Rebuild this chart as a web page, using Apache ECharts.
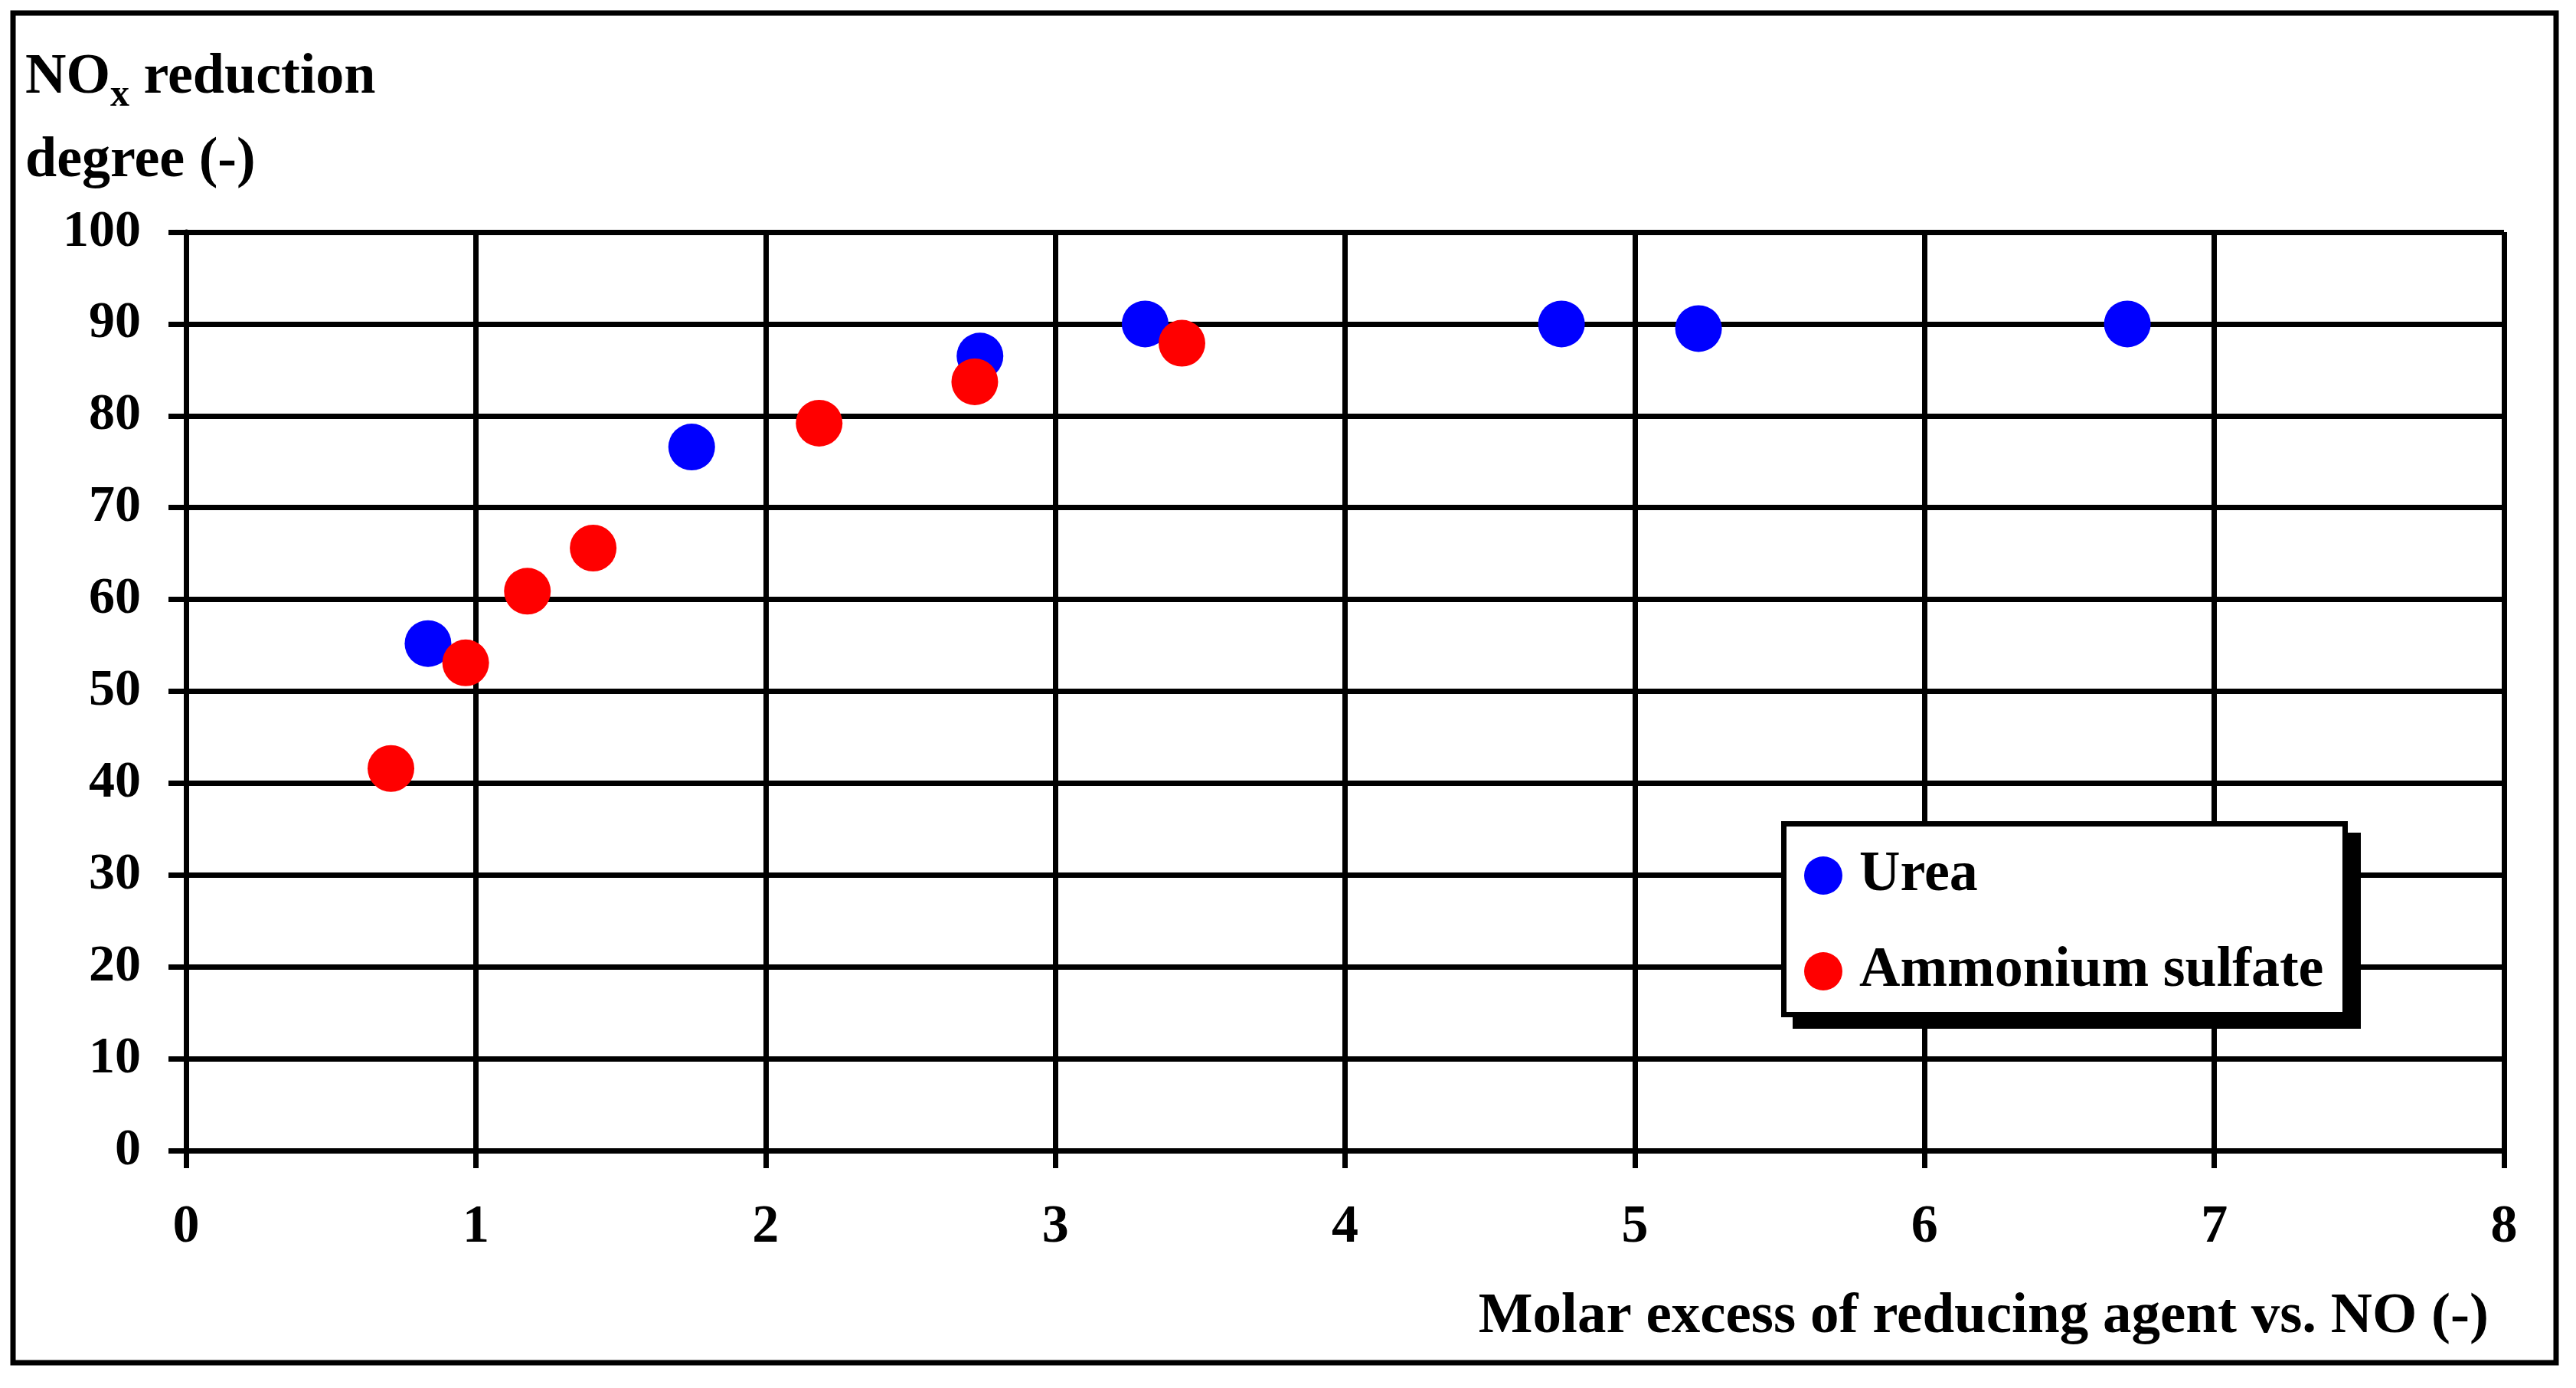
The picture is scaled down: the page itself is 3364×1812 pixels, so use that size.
<!DOCTYPE html>
<html>
<head>
<meta charset="utf-8">
<style>
html,body{margin:0;padding:0;background:#fff;}
#chart{width:3364px;height:1812px;}
</style>
<script src="https://cdn.jsdelivr.net/npm/echarts@6/dist/echarts.min.js"></script>
</head>
<body>
<div id="chart"></div>
<script>
// ---- data ----
const ureaX = [0.835, 1.745, 2.74, 3.31, 4.747, 5.22, 6.70];
const ureaY = [55.2, 76.6, 86.5, 90.0, 90.0, 89.5, 90.0];
const asX = [0.707, 0.965, 1.178, 1.405, 2.185, 2.722, 3.437];
const asY = [41.6, 53.1, 60.9, 65.6, 79.2, 83.7, 87.9];
const xTicks = [0, 1, 2, 3, 4, 5, 6, 7, 8];
const yTicks = [0, 10, 20, 30, 40, 50, 60, 70, 80, 90, 100];
const seriesNames = ['Urea', 'Ammonium sulfate'];
const xTitle = 'Molar excess of reducing agent vs. NO (-)';

const FONT = '"Liberation Serif", "Times New Roman", serif';
const pairs = (xs, ys) => xs.map((x, i) => [x, ys[i]]);

const chart = echarts.init(document.getElementById('chart'), null, {renderer: 'canvas'});
chart.setOption({
  animation: false,
  backgroundColor: '#ffffff',
  textStyle: {fontFamily: FONT, fontWeight: 'bold', color: '#000'},
  grid: {left: 243, right: 94, top: 303, bottom: 310, containLabel: false},
  title: {
    left: 28, top: 42,
    text: '{a|NO}{s|x}{a| reduction}\n{a|degree (-)}',
    textStyle: {
      rich: {
        a: {fontFamily: FONT, fontWeight: 'bold', fontSize: 74, lineHeight: 109, color: '#000'},
        s: {fontFamily: FONT, fontWeight: 'bold', fontSize: 50, lineHeight: 50, verticalAlign: 'bottom', padding: [0, 0, 6, 0], color: '#000'}
      }
    }
  },
  legend: {
    orient: 'vertical',
    left: 2356, top: 1106,
    padding: 0,
    itemGap: 51,
    itemWidth: 50, itemHeight: 50,
    icon: 'circle',
    z: 6,
    textStyle: {fontFamily: FONT, fontWeight: 'bold', fontSize: 74, color: '#000', padding: [0, 0, 0, 17]},
    data: seriesNames
  },
  xAxis: {
    type: 'value', min: xTicks[0], max: xTicks[xTicks.length - 1], interval: 1,
    name: xTitle,
    nameLocation: 'end',
    nameGap: -20,
    nameTextStyle: {fontFamily: FONT, fontWeight: 'bold', fontSize: 75, color: '#000', align: 'right', verticalAlign: 'top', padding: [180, 0, 0, 0]},
    axisLine: {show: true, onZero: false, lineStyle: {color: '#000', width: 7}},
    axisTick: {show: true, inside: false, length: 23, lineStyle: {color: '#000', width: 7}},
    axisLabel: {fontFamily: FONT, fontWeight: 'bold', fontSize: 70, color: '#000', margin: 66},
    splitLine: {show: true, lineStyle: {color: '#000', width: 7}}
  },
  yAxis: {
    type: 'value', min: yTicks[0], max: yTicks[yTicks.length - 1], interval: 10,
    axisLine: {show: true, onZero: false, lineStyle: {color: '#000', width: 7}},
    axisTick: {show: true, inside: false, length: 23, lineStyle: {color: '#000', width: 7}},
    axisLabel: {fontFamily: FONT, fontWeight: 'bold', fontSize: 68, color: '#000', margin: 59},
    splitLine: {show: true, lineStyle: {color: '#000', width: 7}}
  },
  graphic: [
    {
      type: 'rect', z: -1, silent: true,
      shape: {x: 17, y: 17, width: 3321, height: 1762},
      style: {fill: 'none', stroke: '#000', lineWidth: 7}
    },
    {
      type: 'rect', z: 5, silent: true,
      shape: {x: 2341, y: 1087, width: 742, height: 256},
      style: {fill: '#000', stroke: 'none'}
    },
    {
      type: 'rect', z: 5, silent: true,
      shape: {x: 2329.5, y: 1075.5, width: 733, height: 249},
      style: {fill: '#fff', stroke: '#000', lineWidth: 7}
    }
  ],
  series: [
    {name: seriesNames[0], type: 'scatter', symbol: 'circle', symbolSize: 61, itemStyle: {color: '#0000ff', opacity: 1}, data: pairs(ureaX, ureaY), z: 3},
    {name: seriesNames[1], type: 'scatter', symbol: 'circle', symbolSize: 61, itemStyle: {color: '#ff0000', opacity: 1}, data: pairs(asX, asY), z: 4}
  ]
});
</script>
</body>
</html>
